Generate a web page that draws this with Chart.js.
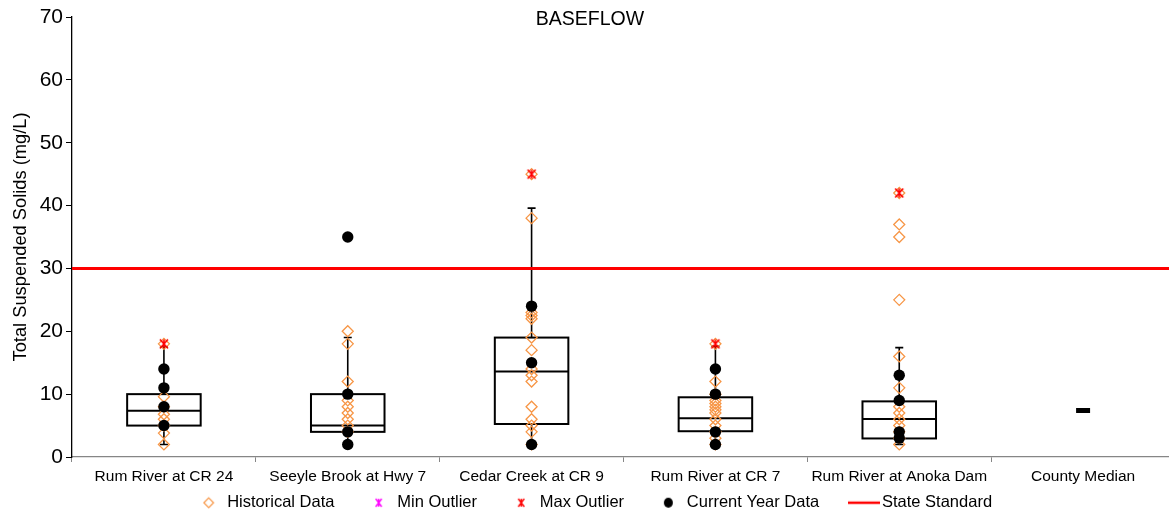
<!DOCTYPE html>
<html><head><meta charset="utf-8">
<script src="https://cdn.jsdelivr.net/npm/chart.js@4.4.1/dist/chart.umd.min.js"></script>
<style>
html,body{margin:0;padding:0;overflow:hidden;background:#fff;width:1169px;height:511px}
#wrap{position:absolute;left:0;top:0;width:1187px;height:521px}
</style>
</head><body><div id="wrap"><canvas id="c" width="1187" height="521"></canvas></div>
<script>
const FONT = "'Liberation Sans', Arial, sans-serif";
const ORANGE = '#F79646';

const sites = ['Rum River at CR 24', 'Seeyle Brook at Hwy 7', 'Cedar Creek at CR 9', 'Rum River at CR 7', 'Rum River at Anoka Dam', 'County Median'];
const chartTitle = 'BASEFLOW';
const yTitle = 'Total Suspended Solids (mg/L)';
const yMin = 0, yMax = 70, yStep = 10;
const stateStandard = 30;

// Box statistics (first five sites)
const boxQ1     = [5.0, 4.0, 5.25, 4.1, 2.95];
const boxMedian = [7.35, 5.0, 13.6, 6.15, 6.05];
const boxQ3     = [10.0, 10.0, 19.0, 9.5, 8.85];
const whiskLow  = [2.0, 2.0, 2.0, 2.0, 2.0];
const whiskHigh = [17.5, 19.0, 39.6, 17.6, 17.4];

// Historical data
const histCR24   = [18, 9.6, 8, 6.8, 6, 5, 3.8, 2];
const histSeeyle = [20, 18, 12, 9, 8, 7, 6, 5, 4];
const histCedar  = [45, 38, 23, 22.5, 22, 19, 17, 14, 13, 12, 8, 6, 5, 4, 2];
const histCR7    = [18, 12, 10, 9, 8.5, 8, 7.5, 7, 6, 5, 4, 3, 2];
const histAnoka  = [42, 37, 35, 25, 16, 11, 8, 7, 6, 5, 4, 3, 2];

// Current year data
const curCR24   = [14, 11, 8, 5];
const curSeeyle = [35, 10, 4, 2];
const curCedar  = [24, 15, 2];
const curCR7    = [14, 10, 4, 2];
const curAnoka  = [13, 9, 4, 3];

// Outliers
const minOutliers = [[], [], [], [], []];
const maxOutliers = [[18], [], [45], [18], [42]];

const countyMedian = 7.4;

const histAll = [histCR24, histSeeyle, histCedar, histCR7, histAnoka];
const curAll = [curCR24, curSeeyle, curCedar, curCR7, curAnoka];
const toPts = (groups) => groups.flatMap((vals, i) => vals.map(v => ({x: sites[i], y: v})));

// marker images
function markerImg(w, h, cx, cy, draw) {
  const c = document.createElement('canvas'); c.width = w; c.height = h;
  const g = c.getContext('2d'); g.translate(cx, cy); draw(g); return c;
}
const drawDiamond = (r, lw) => g => { g.strokeStyle = ORANGE; g.lineWidth = lw; g.beginPath(); g.moveTo(0,-r); g.lineTo(r,0); g.lineTo(0,r); g.lineTo(-r,0); g.closePath(); g.stroke(); };
const drawAst = (color, rx, ry, lw) => g => { g.strokeStyle = color; g.lineWidth = lw; g.beginPath(); g.moveTo(-rx,-ry); g.lineTo(rx,ry); g.moveTo(rx,-ry); g.lineTo(-rx,ry); g.moveTo(0,-ry); g.lineTo(0,ry); g.stroke(); };
const drawDot = (rx, ry) => g => { g.fillStyle = '#000'; g.beginPath(); g.ellipse(0,0,rx,ry,0,0,Math.PI*2); g.fill(); };
const drawStd = g => { g.strokeStyle = '#FF0000'; g.lineWidth = 2.5; g.beginPath(); g.moveTo(0,0); g.lineTo(32,0); g.stroke(); };

const astData = markerImg(12, 12, 6, 6, drawAst('#FF0000', 4, 4.5, 1.6));
const LW = 44, LH = 16, LCX = 22 + 15.5, LCY = 8;
const legImgs = [
  markerImg(LW, LH, LCX, LCY, drawDiamond(4.8, 1.2)),
  markerImg(LW, LH, LCX, LCY, drawAst('#FF00FF', 3, 4, 1.4)),
  markerImg(LW, LH, LCX, LCY, drawAst('#FF0000', 3, 4, 1.4)),
  markerImg(LW, LH, LCX, LCY, drawDot(4.5, 5)),
  markerImg(70, 8, 35, 4, drawStd)
];
const legTexts = ['Historical Data', 'Min Outlier', 'Max Outlier', 'Current Year Data', 'State Standard      '];

const boxPlugin = {
  id: 'boxes',
  beforeDatasetsDraw(chart) {
    const {ctx, chartArea, scales: {x, y}} = chart;
    const catW = x.getPixelForValue(1) - x.getPixelForValue(0);
    const bw = catW * 0.4, cap = 4;
    ctx.save();
    ctx.strokeStyle = '#000';
    boxQ1.forEach((q1, i) => {
      const cx = x.getPixelForValue(i);
      const pTop = y.getPixelForValue(boxQ3[i]), pBot = y.getPixelForValue(q1);
      const pHi = y.getPixelForValue(whiskHigh[i]), pLo = y.getPixelForValue(whiskLow[i]);
      const pMed = y.getPixelForValue(boxMedian[i]);
      ctx.lineWidth = 1.6;
      ctx.beginPath();
      ctx.moveTo(cx, pTop); ctx.lineTo(cx, pHi);
      ctx.moveTo(cx - cap, pHi); ctx.lineTo(cx + cap, pHi);
      ctx.moveTo(cx, pBot); ctx.lineTo(cx, pLo);
      ctx.moveTo(cx - cap, pLo); ctx.lineTo(cx + cap, pLo);
      ctx.stroke();
      ctx.lineWidth = 2;
      ctx.strokeRect(cx - bw / 2, pTop, bw, pBot - pTop);
      ctx.beginPath(); ctx.moveTo(cx - bw / 2, pMed); ctx.lineTo(cx + bw / 2, pMed); ctx.stroke();
    });
    const ys = y.getPixelForValue(stateStandard);
    ctx.strokeStyle = '#FF0000'; ctx.lineWidth = 3;
    ctx.beginPath(); ctx.moveTo(chartArea.left, ys); ctx.lineTo(chartArea.right, ys); ctx.stroke();
    ctx.restore();
  },
  afterDraw(chart) {
    const {ctx} = chart;
    ctx.save();
    ctx.font = '19.5px ' + FONT; ctx.fillStyle = '#000';
    ctx.textAlign = 'center'; ctx.textBaseline = 'middle';
    ctx.fillText(chartTitle, 590, 20);
    ctx.restore();
  }
};

new Chart(document.getElementById('c'), {
  type: 'line',
  data: {
    labels: sites,
    datasets: [
      { label: 'Current Year Data', data: toPts(curAll), showLine: false, order: 1,
        pointStyle: 'circle', pointRadius: 5.7, pointBackgroundColor: '#000', pointBorderColor: '#000', pointBorderWidth: 0 },
      { label: 'Max Outlier', data: toPts(maxOutliers), showLine: false, order: 2,
        pointStyle: astData, pointRadius: 6 },
      { label: 'Min Outlier', data: toPts(minOutliers), showLine: false, order: 3,
        pointStyle: astData, pointRadius: 6 },
      { label: 'Historical Data', data: toPts(histAll), showLine: false, order: 4,
        pointStyle: 'rectRot', pointRadius: 5.5, pointBackgroundColor: 'rgba(0,0,0,0)', pointBorderColor: ORANGE, pointBorderWidth: 1.3 },
      { label: 'County Median', data: [{x: sites[5], y: countyMedian}], showLine: false, order: 0,
        pointStyle: 'line', pointRadius: 7, pointBorderColor: '#000', pointBorderWidth: 5 }
    ]
  },
  options: {
    responsive: false,
    animation: false,
    devicePixelRatio: 1,
    layout: { padding: { top: 17, left: 0, right: 0, bottom: 0 } },
    plugins: {
      tooltip: { enabled: false },
      title: { display: false },
      legend: {
        position: 'bottom',
        labels: {
          usePointStyle: true,
          pointStyleWidth: 51.5,
          boxWidth: 51.5,
          padding: 3,
          color: '#000',
          font: { family: FONT, size: 16.5 },
          generateLabels: () => legTexts.map((t, i) => ({
            text: t, pointStyle: legImgs[i], rotation: 0, hidden: false,
            fillStyle: 'rgba(0,0,0,0)', strokeStyle: 'rgba(0,0,0,0)', lineWidth: 0, fontColor: '#000', datasetIndex: i
          }))
        }
      }
    },
    scales: {
      x: {
        type: 'category',
        offset: true,
        afterFit: (s) => { s.height = 34.5; },
        border: { display: true, color: '#868686', width: 1.3 },
        grid: { offset: true, drawOnChartArea: false, drawTicks: true, tickLength: 5, color: '#868686' },
        ticks: { color: '#000', font: { family: FONT, size: 15.5 }, padding: 5, maxRotation: 0, autoSkip: false }
      },
      y: {
        min: yMin, max: yMax,
        afterFit: (s) => { s.width = 72; },
        border: { display: true, color: '#000', width: 1.3 },
        grid: { drawOnChartArea: false, drawTicks: true, tickLength: 6, color: '#000' },
        ticks: { stepSize: yStep, color: '#000', font: { family: FONT, size: 21 }, padding: 3 },
        title: { display: true, text: yTitle, color: '#000', font: { family: FONT, size: 18.3 }, padding: { top: 10, bottom: 0 } }
      }
    }
  },
  plugins: [boxPlugin]
});
</script>
</body></html>
